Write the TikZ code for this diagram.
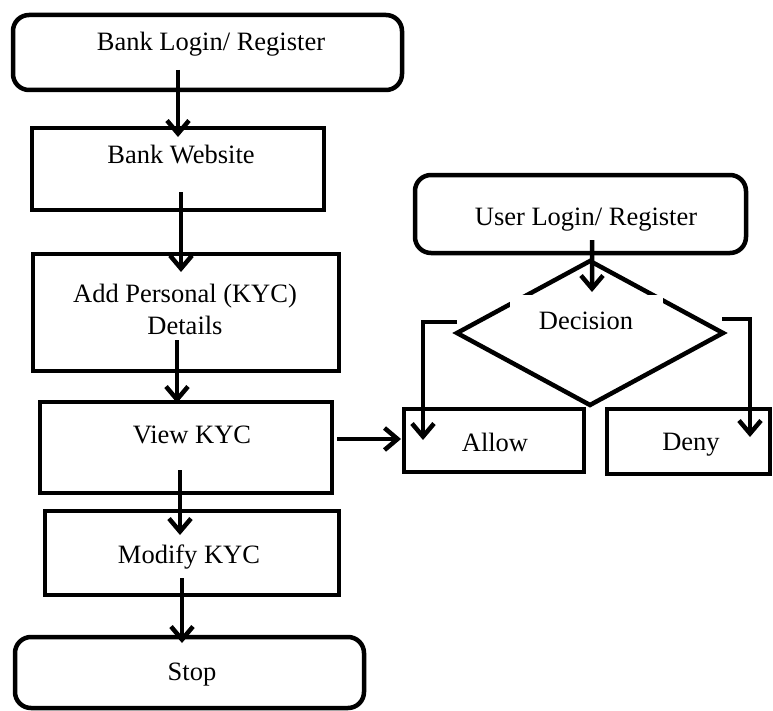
\documentclass[tikz,border=0pt]{standalone}
\usepackage{fontspec}
\setmainfont{Liberation Serif}
\usetikzlibrary{arrows.meta,shapes.geometric,fit,calc}
\begin{document}
\begin{tikzpicture}[x=1bp,y=-1bp,
  every node/.style={font=\fontsize{26.5bp}{32bp}\selectfont},
  box/.style={draw, line width=4.5bp, inner sep=0pt, outer sep=0pt},
  rbox/.style={box, rounded corners=16bp},
  lbl/.style={inner sep=0pt, text height=0.7em, text depth=0.2em},
  lbltwo/.style={inner sep=0pt, align=center},
  arr/.style={line width=4.5bp, -{Straight Barb[length=13bp,width=22bp]}},
]
\useasboundingbox (0,0) rectangle (773,711);

% left column: bank side
\node[rbox, fit={(13,15) (402,90)}] (bl) {};
\node[box, fit={(32,128) (324,210)}] (bw) {};
\node[box, fit={(33,254) (339,371)}] (ap) {};
\node[box, fit={(40,402) (332,493)}] (vk) {};
\node[box, fit={(45,511) (339,595)}] (mk) {};
\node[rbox, fit={(15,637) (364,708)}] (st) {};

% right column: user side
\node[rbox, fit={(415,175) (746,253)}] (ul) {};
\node[box, diamond, minimum width=266bp, minimum height=144bp] (dc) at (590,333) {};
\node[box, fit={(404,409) (584,472)}] (al) {};
\node[box, fit={(607,409) (770,474)}] (dn) {};

% white text panel inside the decision diamond
\node[fill=white, inner sep=0pt, minimum width=153bp, minimum height=54bp] (dcpanel) at (586.5,322) {};

% labels
\node[lbl] (tbl) at (211,48) {Bank Login/ Register};
\node[lbl] (tbw) at (181,161) {Bank Website};
\node[lbltwo] (tap) at (185,309) {Add Personal (KYC)\\Details};
\node[lbl] (tvk) at (192,441) {View KYC};
\node[lbl] (tmk) at (189,561) {Modify KYC};
\node[lbl] (tst) at (192,678) {Stop};
\node[lbl] (tul) at (586,223) {User Login/ Register};
\node[lbl] (tdc) at (586,327) {Decision};
\node[lbl] (tal) at (495,449) {Allow};
\node[lbl] (tdn) at (691,448) {Deny};

% connectors
\draw[arr] ($(bl.south)+(-29.5,-20)$) -- ($(bw.north)+(0,9)$);
\draw[arr] ($(bw.south)+(3,-18)$) -- ($(ap.north)+(-5,18)$);
\draw[arr] ($(ap.south)+(-9,-31)$) -- ($(vk.north)+(-9,1)$);
\draw[arr] ($(vk.south)+(-6,-23)$) -- ($(mk.north)+(-12,24)$);
\draw[arr] ($(mk.south)+(-10,-17)$) -- ($(st.north)+(-7.5,6)$);
\draw[arr] ($(vk.east)+(5,-8.5)$) -- ($(al.west)+(-3,-1.5)$);
\draw[arr] ($(ul.south)+(11.5,-13)$) -- ($(dc.north)+(2,31)$);
\draw[arr] ($(dc.west)+(0,-11)$) -| ($(al.north west)+(19,31)$);
\draw[arr] ($(dc.east)+(-1,-14)$) -| ($(dn.north east)+(-20,28)$);
\end{tikzpicture}
\end{document}
